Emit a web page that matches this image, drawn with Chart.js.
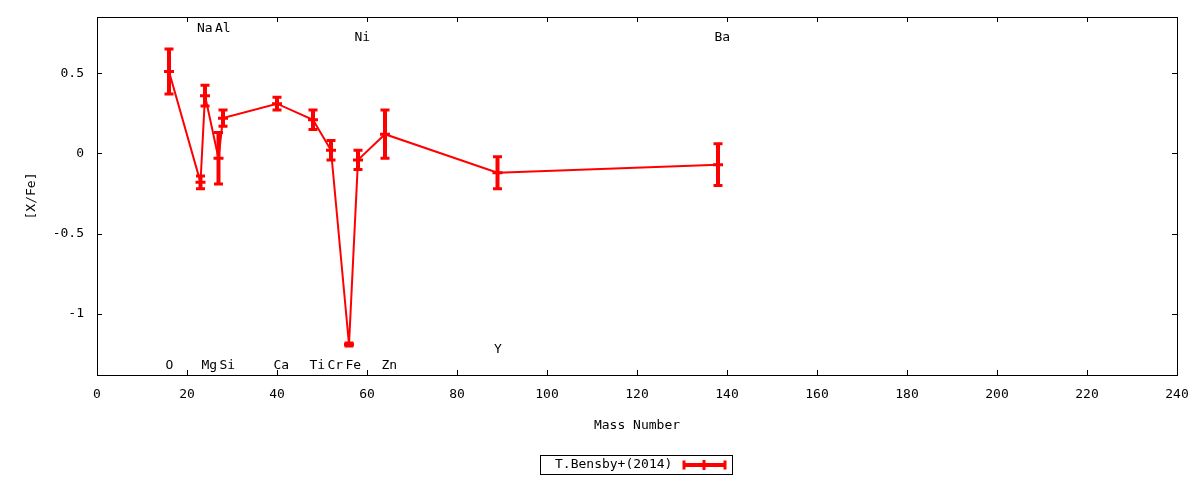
<!DOCTYPE html>
<html>
<head>
<meta charset="utf-8">
<script src="https://cdn.jsdelivr.net/npm/chart.js@4/dist/chart.umd.min.js"></script>
<style>
body { margin: 0; background: #fff; }
</style>
</head>
<body>
<canvas id="chart" width="1200" height="480"></canvas>
<script>
// abundance pattern, values
const elements = ['O', 'Na', 'Mg', 'Al', 'Si', 'Ca', 'Ti', 'Cr', 'Fe', 'Ni', 'Zn', 'Y', 'Ba']
const massNumber = [16, 23, 24, 27, 28, 40, 48, 52, 56, 58, 64, 89, 138]
const xfe = [0.51, -0.18, 0.36, -0.03, 0.22, 0.31, 0.21, 0.02, -1.19, -0.04, 0.12, -0.12, -0.07]
const xfeErr = [0.14, 0.04, 0.065, 0.16, 0.05, 0.04, 0.06, 0.06, 0.01, 0.06, 0.15, 0.10, 0.13]
const labelY = [-1.32, 0.78, -1.32, 0.78, -1.32, -1.32, -1.32, -1.32, -1.32, 0.72, -1.32, -1.225, 0.72]
const xTicks = [0, 20, 40, 60, 80, 100, 120, 140, 160, 180, 200, 220, 240]
const yTicks = [-1, -0.5, 0, 0.5]
const seriesName = 'T.Bensby+(2014)'

const RED = '#ff0000'
const FONT = "13px 'DejaVu Sans Mono', monospace"

Chart.defaults.font.family = "'DejaVu Sans Mono', monospace"
Chart.defaults.font.size = 13
Chart.defaults.color = '#000'

function errorBar(ctx, x, yTop, yMid, yBot) {
    ctx.strokeStyle = RED
    ctx.lineWidth = 4
    ctx.beginPath()
    ctx.moveTo(x, yTop)
    ctx.lineTo(x, yBot)
    ctx.stroke()
    ctx.lineWidth = 3
    ctx.beginPath()
    ctx.moveTo(x - 4.5, yTop); ctx.lineTo(x + 4.5, yTop)
    ctx.moveTo(x - 4.5, yBot); ctx.lineTo(x + 4.5, yBot)
    ctx.moveTo(x - 5, yMid); ctx.lineTo(x + 5, yMid)
    ctx.stroke()
}

const gnuplotLook = {
    id: 'gnuplotLook',
    afterDatasetsDraw(chart) {
        const ctx = chart.ctx
        const xs = chart.scales.x
        const ys = chart.scales.y
        ctx.save()
        massNumber.forEach((m, i) => {
            const x = xs.getPixelForValue(m)
            errorBar(ctx, x,
                ys.getPixelForValue(xfe[i] + xfeErr[i]),
                ys.getPixelForValue(xfe[i]),
                ys.getPixelForValue(xfe[i] - xfeErr[i]))
        })
        ctx.restore()
    },
    afterDraw(chart) {
        const ctx = chart.ctx
        const a = chart.chartArea
        const xs = chart.scales.x
        const ys = chart.scales.y
        ctx.save()
        // frame
        ctx.strokeStyle = '#000'
        ctx.lineWidth = 1
        ctx.strokeRect(Math.round(a.left) + 0.5, Math.round(a.top) + 0.5,
            Math.round(a.right - a.left), Math.round(a.bottom - a.top))
        // inward ticks, mirrored
        ctx.beginPath()
        xTicks.forEach(v => {
            const x = Math.round(xs.getPixelForValue(v)) + 0.5
            ctx.moveTo(x, a.bottom); ctx.lineTo(x, a.bottom - 5)
            ctx.moveTo(x, a.top); ctx.lineTo(x, a.top + 5)
        })
        yTicks.forEach(v => {
            const y = Math.round(ys.getPixelForValue(v)) + 0.5
            ctx.moveTo(a.left, y); ctx.lineTo(a.left + 5, y)
            ctx.moveTo(a.right, y); ctx.lineTo(a.right - 5, y)
        })
        ctx.stroke()
        // element names
        ctx.font = FONT
        ctx.fillStyle = '#000'
        ctx.textAlign = 'left'
        ctx.textBaseline = 'middle'
        elements.forEach((el, i) => {
            ctx.fillText(el, xs.getPixelForValue(massNumber[i]) - 3.5, ys.getPixelForValue(labelY[i]))
        })
        // key
        ctx.strokeRect(540.5, 455.5, 192, 19)
        ctx.fillText(seriesName, 555, 465)
        ctx.strokeStyle = RED
        ctx.lineWidth = 4
        ctx.beginPath()
        ctx.moveTo(684, 465); ctx.lineTo(725, 465)
        ctx.stroke()
        ctx.lineWidth = 3
        ctx.beginPath()
        ctx.moveTo(684, 460.5); ctx.lineTo(684, 469.5)
        ctx.moveTo(725, 460.5); ctx.lineTo(725, 469.5)
        ctx.moveTo(704, 460); ctx.lineTo(704, 470)
        ctx.stroke()
        ctx.restore()
    }
}

new Chart(document.getElementById('chart'), {
    type: 'scatter',
    data: {
        datasets: [{
            label: seriesName,
            data: massNumber.map((m, i) => ({ x: m, y: xfe[i] })),
            showLine: true,
            borderColor: RED,
            backgroundColor: RED,
            borderWidth: 2,
            pointRadius: 0
        }]
    },
    options: {
        responsive: false,
        animation: false,
        devicePixelRatio: 1,
        layout: { padding: { top: 17, right: 23, left: 0, bottom: 0 } },
        plugins: {
            legend: { display: false },
            tooltip: { enabled: false }
        },
        scales: {
            x: {
                type: 'linear',
                min: 0,
                max: 240,
                afterBuildTicks: s => { s.ticks = xTicks.map(v => ({ value: v })) },
                afterFit: s => {
                    s.height = 105
                    s.paddingLeft = 0
                    s.paddingRight = 0
                },
                grid: { display: false, drawTicks: false },
                border: { display: false },
                ticks: { padding: 12, maxRotation: 0, callback: v => String(v) },
                title: { display: true, text: 'Mass Number', padding: { top: 0, bottom: 47 } }
            },
            y: {
                type: 'linear',
                min: -1.38,
                max: 0.85,
                afterBuildTicks: s => { s.ticks = yTicks.map(v => ({ value: v })) },
                afterFit: s => {
                    s.width = 97
                    s.paddingTop = 0
                    s.paddingBottom = 0
                },
                grid: { display: false, drawTicks: false },
                border: { display: false },
                ticks: { padding: 13, callback: v => String(v) },
                title: { display: true, text: '[X/Fe]', padding: { top: 24, bottom: 0 } }
            }
        }
    },
    plugins: [gnuplotLook]
})
</script>
</body>
</html>
